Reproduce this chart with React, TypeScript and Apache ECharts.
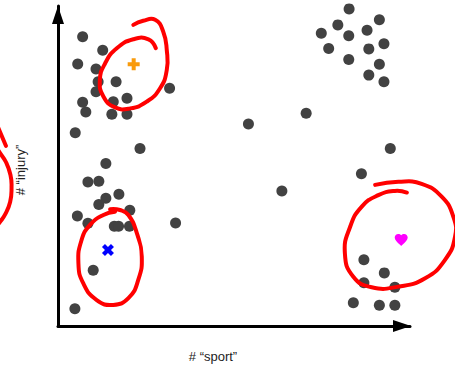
import React, { useEffect, useRef } from "react";
import * as echarts from "echarts";

// Data points: [#"sport", #"injury"]
const dots: [number, number][] = [
  [7.0, 90.4], [12.7, 86.2], [5.6, 81.9], [10.8, 80.3], [11.4, 76.3], [16.5, 76.3],
  [10.8, 73.2], [7.0, 69.9], [7.9, 66.9], [15.7, 70.1], [19.6, 71.2], [15.3, 66.2],
  [19.6, 66.2], [31.7, 74.3], [4.9, 60.4], [23.3, 55.5], [13.6, 50.8], [8.5, 45.0],
  [11.6, 45.2],
  [13.6, 39.9], [17.3, 41.2], [11.6, 38.0], [5.5, 34.4], [20.4, 36.2], [8.5, 32.1],
  [16.0, 31.2], [17.2, 31.2], [20.3, 31.2], [33.4, 32.2], [10.0, 17.4], [4.8, 5.4],
  [82.7, 99.1], [91.3, 95.7], [79.5, 94.1], [74.8, 91.5], [82.6, 90.7], [87.8, 92.4],
  [76.9, 86.7], [88.3, 86.6], [92.6, 88.2], [82.6, 83.3], [91.3, 81.8], [88.3, 78.4],
  [92.6, 76.3],
  [70.5, 66.5], [54.1, 63.1], [94.4, 55.5], [86.2, 47.6], [63.6, 42.2],
  [86.9, 20.7], [92.7, 16.6], [86.9, 13.5], [95.7, 12.1], [83.9, 7.3], [91.3, 6.5], [95.7, 6.5],
];

const plusPoint: [number, number][] = [[21.5, 81.8]];
const crossPoint: [number, number][] = [[14.2, 23.75]];
const heartPoint: [number, number][] = [[97.5, 26.9]];

// Hand-drawn red annotation strokes (data space)
const strokeTopLeft: [number, number][] = [
  [21.4, 94.1], [24.2, 95.4], [27.6, 95.7], [29.9, 91.97], [30.9, 86.25], [30.9, 80.0],
  [29.0, 74.3], [25.2, 70.1], [20.5, 68.0], [16.2, 68.3], [12.9, 71.7], [11.9, 76.9],
  [13.4, 82.1], [16.7, 86.8], [21.4, 89.6], [25.7, 89.6], [27.8, 86.8],
];
const strokeBottomLeft: [number, number][] = [
  [14.8, 36.5], [17.6, 36.25], [20.0, 34.7], [22.4, 29.0], [23.8, 21.7], [22.8, 14.4],
  [20.0, 8.7], [15.7, 6.6], [11.0, 8.1], [7.2, 13.3], [5.8, 19.6], [6.7, 26.9],
  [9.1, 31.6], [12.9, 34.7], [16.2, 35.7],
];
const strokeRight: [number, number][] = [
  [90.1, 44.1], [96.7, 45.1], [103.3, 44.4], [109.0, 40.4], [112.3, 34.2], [112.8, 27.9],
  [109.9, 20.6], [104.3, 14.9], [96.7, 12.3], [89.1, 12.1], [83.9, 15.4], [81.5, 22.7],
  [83.0, 31.0], [86.3, 37.3], [91.0, 40.9], [95.7, 42.2], [99.1, 41.7],
];
const strokeLeftEdge: [number, number][] = [
  [-17.9, 56.6], [-16.5, 54.1], [-14.8, 51.25], [-13.5, 47.2], [-13.2, 43.4],
  [-13.6, 38.75], [-15.1, 34.7], [-16.5, 32.5], [-18.2, 30.0],
];
const strokeLeftTick: [number, number][] = [[-17.3, 62.8], [-14.8, 56.3]];

const strokes: { pts: [number, number][]; smooth: number }[] = [
  { pts: strokeTopLeft, smooth: 0.5 },
  { pts: strokeBottomLeft, smooth: 0.5 },
  { pts: strokeRight, smooth: 0.5 },
  { pts: strokeLeftEdge, smooth: 0.5 },
  { pts: strokeLeftTick, smooth: 0 },
];

const xLabel = "# “sport”";
const yLabel = "# “injury”";

const PLUS = "path://M4,0H8V4H12V8H8V12H4V8H0V4H4Z";
const CROSS = "path://M3,0L6,3L9,0L12,3L9,6L12,9L9,12L6,9L3,12L0,9L3,6L0,3Z";
const HEART =
  "path://M12,21.35L10.55,20.03C5.4,15.36,2,12.28,2,8.5C2,5.42,4.42,3,7.5,3C9.24,3,10.91,3.81,12,5.09C13.09,3.81,14.76,3,16.5,3C19.58,3,22,5.42,22,8.5C22,12.28,18.6,15.36,13.45,20.04L12,21.35Z";

export default function App() {
  const ref = useRef<HTMLDivElement>(null);
  useEffect(() => {
    if (!ref.current) return;
    const chart = echarts.init(ref.current, undefined, { renderer: "svg" });
    const axisLine = (offset: number) => ({
      show: true,
      symbol: ["none", "triangle"],
      symbolSize: [12, 18],
      symbolOffset: [0, offset],
      lineStyle: { color: "#000", width: 3 },
    });
    const labels = [
      {
        type: "text",
        x: 213,
        y: 356,
        style: {
          text: xLabel,
          fill: "#222",
          font: "13px 'Liberation Sans', Arial, sans-serif",
          align: "center",
          verticalAlign: "middle",
        },
      },
      {
        type: "text",
        x: 20,
        y: 170,
        rotation: Math.PI / 2,
        style: {
          text: yLabel,
          fill: "#222",
          font: "13px 'Liberation Sans', Arial, sans-serif",
          align: "center",
          verticalAlign: "middle",
        },
      },
    ];
    chart.setOption({
      animation: false,
      backgroundColor: "#fff",
      grid: { left: 58, top: 6, width: 352, height: 320 },
      xAxis: {
        type: "value",
        min: 0,
        max: 100,
        axisLine: axisLine(-8),
        axisTick: { show: false },
        axisLabel: { show: false },
        splitLine: { show: false },
      },
      yAxis: {
        type: "value",
        min: 0,
        max: 100,
        axisLine: axisLine(-9),
        axisTick: { show: false },
        axisLabel: { show: false },
        splitLine: { show: false },
      },
      graphic: labels,
      series: [
        {
          type: "scatter",
          data: dots,
          symbol: "circle",
          symbolSize: 11,
          itemStyle: { color: "#424242", opacity: 1 },
          silent: true,
        },
        {
          type: "scatter",
          data: plusPoint,
          symbol: PLUS,
          symbolSize: 12,
          itemStyle: { color: "#f99b0c", opacity: 1 },
          z: 6,
        },
        {
          type: "scatter",
          data: crossPoint,
          symbol: CROSS,
          symbolSize: 12,
          itemStyle: { color: "#0000ff", opacity: 1 },
          z: 6,
        },
        {
          type: "scatter",
          data: heartPoint,
          symbol: HEART,
          symbolSize: [13, 12],
          itemStyle: { color: "#ff00ff", opacity: 1 },
          z: 6,
        },
      ],
    });
    // Red hand-drawn annotations, placed through the chart's own scales
    const strokeGraphics = strokes.map((s) => ({
      type: "polyline",
      silent: true,
      z: 5,
      shape: {
        points: s.pts.map((p) => chart.convertToPixel({ gridIndex: 0 }, p) as number[]),
        smooth: s.smooth,
      },
      style: { stroke: "#ff0000", lineWidth: 4, fill: "none", lineCap: "round", lineJoin: "round" },
    }));
    chart.setOption({ graphic: [...labels, ...strokeGraphics] });
    return () => chart.dispose();
  }, []);
  return (
    <div
      ref={ref}
      style={{ position: "fixed", left: 0, top: 0, width: 455, height: 369, background: "#fff" }}
    />
  );
}
